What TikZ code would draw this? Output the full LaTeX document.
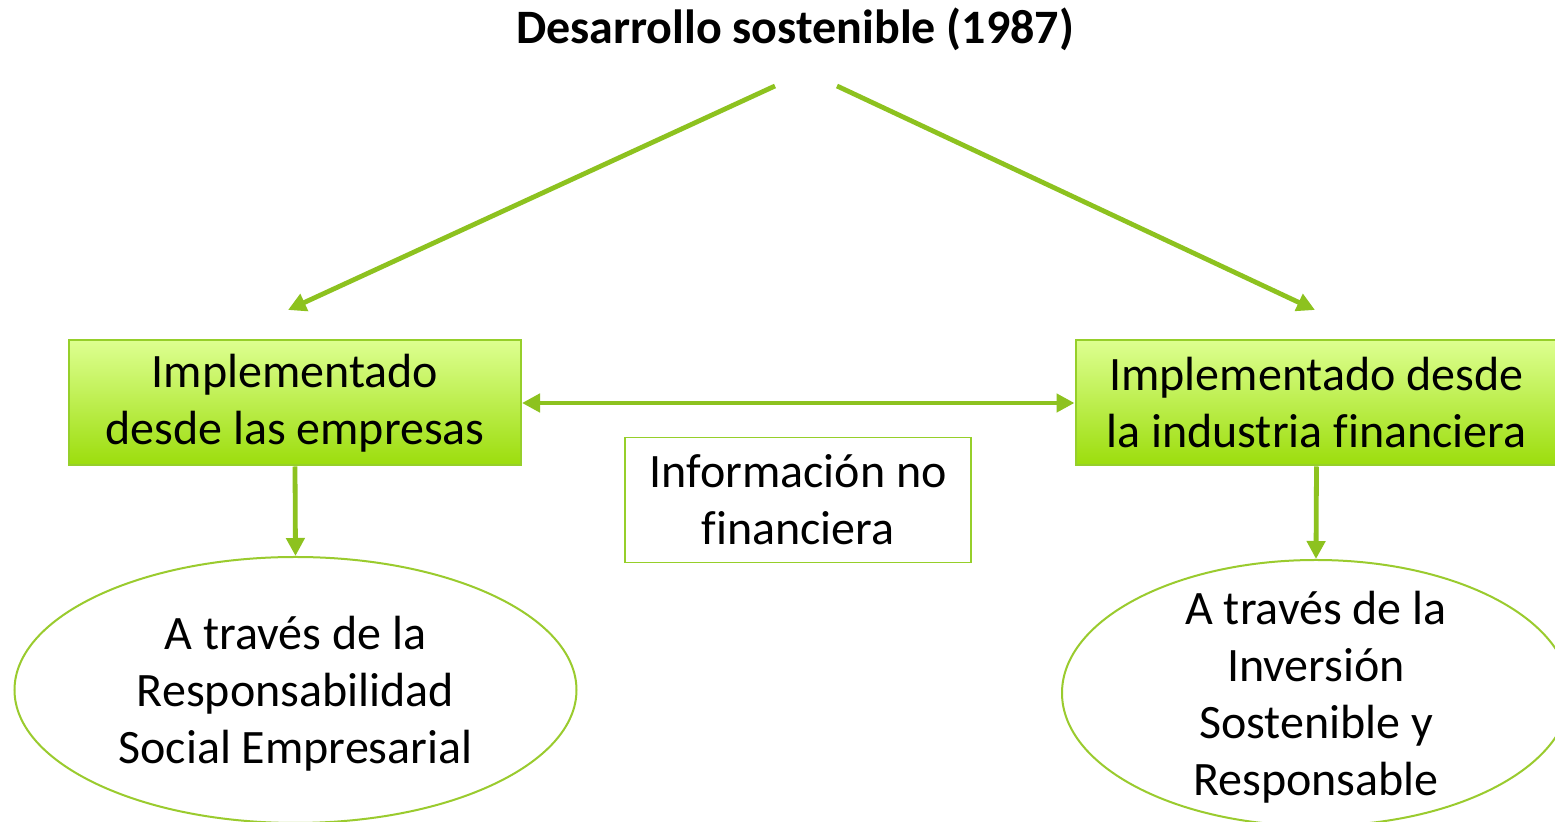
\documentclass[tikz,border=0pt]{standalone}
\usepackage{fontspec}
\setmainfont{Carlito}[Ligatures={TeX,NoCommon}]
\usetikzlibrary{shapes.geometric,arrows.meta,shadings}
\definecolor{arrgreen}{HTML}{8DC21F}
\definecolor{boxborder}{HTML}{96CF2A}
\definecolor{boxtop}{HTML}{DDFF90}
\definecolor{boxbot}{HTML}{9CDD0C}
\definecolor{ellborder}{HTML}{9ACB2E}
\tikzset{
  txt/.style={align=center, font=\fontsize{24}{28.5}\selectfont},
  arr/.style={draw=arrgreen, line width=2.4pt, -{Triangle[length=9pt,width=9pt]}},
  darr/.style={draw=arrgreen, line width=2.4pt, {Triangle[length=9pt,width=9pt]}-{Triangle[length=9pt,width=9pt]}},
  gbox/.style={rectangle, draw=boxborder, line width=1pt, top color=boxtop, bottom color=boxbot,
    txt, inner sep=0pt},
  wbox/.style={rectangle, draw=boxborder, line width=0.8pt, fill=white, txt, inner sep=0pt},
  ell/.style={ellipse, draw=ellborder, line width=1pt, fill=white, inner sep=0pt},
  ttl/.style={font=\bfseries\fontsize{24}{28.5}\selectfont, inner sep=0pt}
}
\begin{document}
\begin{tikzpicture}[x=0.5pt,y=-0.5pt]
\clip (0,0) rectangle (1555,822);
\useasboundingbox (0,0) rectangle (1555,822);
\fill[white] (0,0) rectangle (1555,822);
\node[ttl] (title) at (795,29) {Desarrollo sostenible (1987)};
\coordinate (tl) at (775,86);
\coordinate (tr) at (837,86);
\coordinate (al) at (288,310);
\coordinate (ar) at (1315,310);
\node[gbox, minimum width=226pt, minimum height=62.5pt] (lbox) at (295,403) {Implementado\\desde las empresas};
\node[gbox, minimum width=241pt, minimum height=62.5pt] (rbox) at (1316.5,403) {Implementado desde\\la industria financiera};
\node[wbox, minimum width=173pt, minimum height=62.5pt] (mbox) at (798,500) {Información no\\financiera};
\node[ell, minimum width=281pt, minimum height=133pt,
  label={[txt,yshift=-2pt]center:{A través de la\\Responsabilidad\\Social Empresarial}}] (lell) at (295.5,690) {};
\node[ell, minimum width=254pt, minimum height=133pt,
  label={[txt,yshift=-2pt]center:{A través de la\\Inversión\\Sostenible y\\Responsable}}] (rell) at (1316,693) {};
\draw[arr] (tl) -- (al);
\draw[arr] (tr) -- (ar);
\draw[darr] (lbox.east) -- (rbox.west);
\draw[arr] (lbox.south) -- (lell.north);
\draw[arr] (rbox.south) -- (rell.north);
\end{tikzpicture}
\end{document}
